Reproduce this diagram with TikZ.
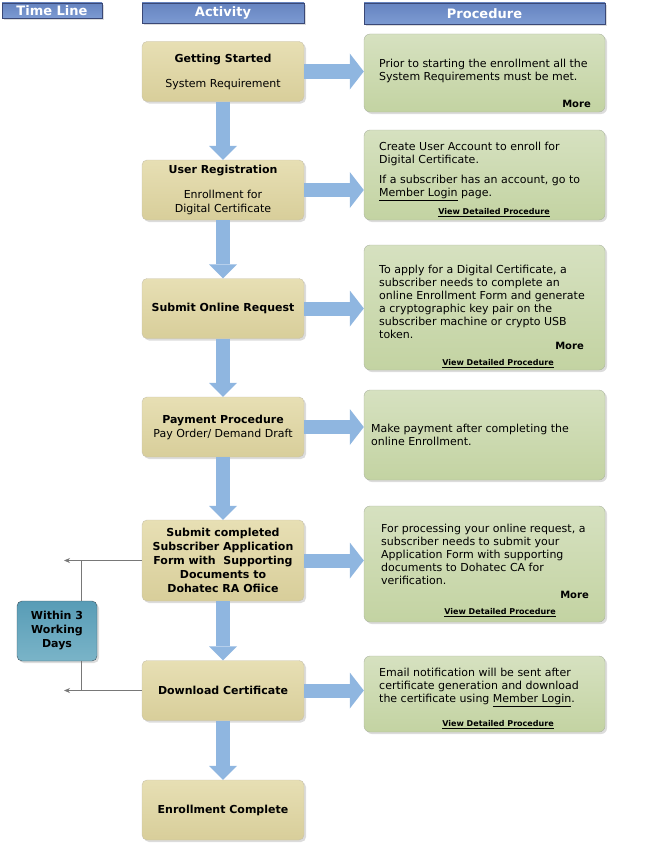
\documentclass[tikz,border=0pt]{standalone}
\usepackage{fontspec}
\setmainfont{DejaVu Sans}
\usetikzlibrary{arrows.meta,shadows}

\definecolor{headtop}{RGB}{102,132,192}
\definecolor{headbot}{RGB}{124,154,210}
\definecolor{headborder}{RGB}{58,72,118}
\definecolor{acttop}{RGB}{231,223,180}
\definecolor{actbot}{RGB}{216,206,154}
\definecolor{actborder}{RGB}{200,194,172}
\definecolor{proctop}{RGB}{214,225,192}
\definecolor{procbot}{RGB}{195,211,162}
\definecolor{procborder}{RGB}{172,180,162}
\definecolor{tltop}{RGB}{88,156,182}
\definecolor{tlbot}{RGB}{122,180,200}
\definecolor{tlborder}{RGB}{66,86,96}
\definecolor{flowblue}{RGB}{143,182,224}
\definecolor{tlgray}{RGB}{120,120,120}

\begin{document}
\begin{tikzpicture}[x=1pt,y=-1pt,font=\fontsize{11}{13}\selectfont,
  boxshadow/.style={drop shadow={shadow xshift=2pt,shadow yshift=-2pt,fill=black!30,opacity=.45}},
  header/.style={draw=headborder,top color=headtop,bottom color=headbot,text=white,
    font=\fontsize{13}{15}\selectfont\bfseries,inner sep=0pt,boxshadow},
  actbox/.style={draw=actborder,rounded corners=5pt,top color=acttop,bottom color=actbot,
    minimum width=162pt,minimum height=60pt,align=center,inner sep=2pt,
    font=\fontsize{11}{14}\selectfont,boxshadow},
  procbox/.style={draw=procborder,rounded corners=6pt,top color=proctop,bottom color=procbot,
    minimum width=241pt,inner sep=0pt,boxshadow},
  tlbox/.style={draw=tlborder,rounded corners=5pt,top color=tltop,bottom color=tlbot,
    minimum width=80pt,minimum height=60pt,align=center,
    font=\fontsize{11}{14}\selectfont\bfseries,boxshadow},
  proctext/.style={anchor=west,align=left,inner sep=0pt},
  morelink/.style={anchor=east,inner sep=0pt,font=\fontsize{10}{12}\selectfont\bfseries},
  viewlink/.style={inner sep=0pt,font=\fontsize{8}{10}\selectfont\bfseries},
  flowarrow/.style={draw=flowblue,line width=14pt,-{Triangle[length=14pt,width=#1,line width=0pt]}},
  tlline/.style={draw=tlgray,line width=.8pt},
  tlarrow/.style={tlline,-{Stealth[length=6pt,width=5pt]}}]

\useasboundingbox (0,0) rectangle (650,843);

% column headers
\node[header,minimum width=100pt,minimum height=15pt] (tlhead) at (52,10.5) {Time Line};
\node[header,minimum width=162pt,minimum height=20pt] (acthead) at (223,13) {Activity};
\node[header,minimum width=241pt,minimum height=21pt] (prochead) at (484.5,13.5) {Procedure};

% activity column
\node[actbox] (act1) at (223,71.5) {\textbf{Getting Started}\\[11pt]System Requirement};
\node[actbox] (act2) at (223,190) {\textbf{User Registration}\\[11pt]Enrollment for\\Digital Certificate};
\node[actbox] (act3) at (223,308.5) {\textbf{Submit Online Request}};
\node[actbox] (act4) at (223,427) {\textbf{Payment Procedure}\\Pay Order/ Demand Draft};
\node[actbox,minimum height=81pt,font=\fontsize{11}{14}\selectfont\bfseries] (act5) at (223,560.5)
  {Submit completed\\Subscriber Application\\Form with\ \ Supporting\\Documents to\\Dohatec RA Ofiice};
\node[actbox] (act6) at (223,690.5) {\textbf{Download Certificate}};
\node[actbox] (act7) at (223,810) {\textbf{Enrollment Complete}};

% procedure column
\node[procbox,minimum height=78pt] (proc1) at (484.5,73) {};
\node[procbox,minimum height=90pt] (proc2) at (484.5,175) {};
\node[procbox,minimum height=125pt] (proc3) at (484.5,307.5) {};
\node[procbox,minimum height=90pt] (proc4) at (484.5,435) {};
\node[procbox,minimum height=116pt] (proc5) at (484.5,564) {};
\node[procbox,minimum height=76pt] (proc6) at (484.5,694) {};

\node[proctext] (text1) at (379,71) {Prior to starting the enrollment all the\\System Requirements must be met.};
\node[morelink] (more1) at (591,104) {More};
\node[proctext] (text2a) at (379,153.5) {Create User Account to enroll for\\Digital Certificate.};
\node[proctext] (text2b) at (379,187.5) {If a subscriber has an account, go to\\\underline{Member Login} page.};
\node[viewlink] (view2) at (494,213) {\underline{View Detailed Procedure}};
\node[proctext] (text3) at (379,301.5) {To apply for a Digital Certificate, a\\subscriber needs to complete an\\online Enrollment Form and generate\\a cryptographic key pair on the\\subscriber machine or crypto USB\\token.};
\node[morelink] (more3) at (584,346) {More};
\node[viewlink] (view3) at (498,364) {\underline{View Detailed Procedure}};
\node[proctext] (text4) at (371,434.5) {Make payment after completing the\\online Enrollment.};
\node[proctext] (text5) at (381,554.5) {For processing your online request, a\\subscriber needs to submit your\\Application Form with supporting\\documents to Dohatec CA for\\verification.};
\node[morelink] (more5) at (589,595) {More};
\node[viewlink] (view5) at (500,613) {\underline{View Detailed Procedure}};
\node[proctext] (text6) at (379,687) {Email notification will be sent after\\certificate generation and download\\the certificate using \underline{Member Login}.};
\node[viewlink] (view6) at (498,725) {\underline{View Detailed Procedure}};

% flow arrows
\foreach \a/\b in {act1/act2,act2/act3,act3/act4,act4/act5,act5/act6,act6/act7}
  \draw[flowarrow=28pt] (\a) -- (\b);
\foreach \i in {1,...,6}
  \draw[flowarrow=36pt] (act\i) -- (act\i -| proc\i.west);

% time line
\node[tlbox] (tlbox) at (57,631) {Within 3\\Working\\Days};
\coordinate (tlx) at (81,0);
\coordinate (tlend) at (64,0);
\draw[tlarrow] (act5.west) -- (act5.west -| tlend);
\draw[tlarrow] (act6.west) -- (act6.west -| tlend);
\draw[tlline] (act5.west -| tlx) -- (tlbox.north -| tlx);
\draw[tlline] (tlbox.south -| tlx) -- (act6.west -| tlx);

\end{tikzpicture}
\end{document}
